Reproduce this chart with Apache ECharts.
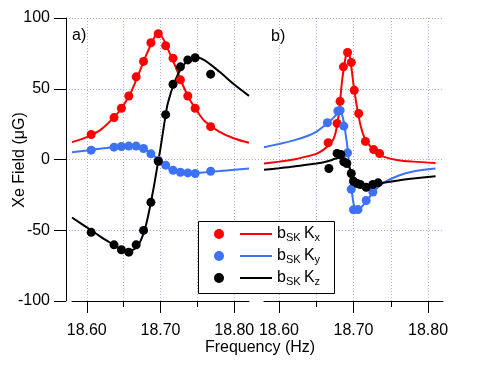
<!DOCTYPE html>
<html>
<head>
<meta charset="utf-8">
<script src="https://cdn.jsdelivr.net/npm/echarts@6/dist/echarts.min.js"></script>
<style>
  html, body { margin: 0; padding: 0; background: #fff; }
  #chart { width: 485px; height: 367px; }
</style>
</head>
<body>
<div id="chart"></div>
<script>
// tick labels
var yTicks = [-100, -50, 0, 50, 100];
var xMajor = [18.60, 18.70, 18.80];
var xMinor = [18.60, 18.65, 18.70, 18.75, 18.80];

// panel a) measured points
var aFreq = [18.606, 18.637, 18.647, 18.657, 18.667, 18.677, 18.687, 18.697, 18.707, 18.717, 18.727, 18.737, 18.747, 18.768];
var aKx = [17.7, 29.6, 36.2, 44.9, 58.4, 69.3, 82.5, 88.9, 80.4, 71.6, 56.3, 44.9, 36.2, 23.2];
var aKy = [6.6, 8.7, 9.2, 9.5, 9.5, 7.8, 4.0, -0.7, -4.0, -7.6, -9.0, -9.5, -9.9, -8.3];
var aKz = [-51.5, -60.3, -63.8, -65.5, -60.3, -50.1, -30.3, -1.2, 31.7, 53.2, 65.5, 70.4, 71.9, 60.3];

// panel a) fit curves
var fitFreqA = [18.58, 18.60, 18.62, 18.64, 18.65, 18.66, 18.67, 18.68, 18.69, 18.695, 18.70, 18.705, 18.71, 18.72, 18.73, 18.74, 18.75, 18.76, 18.78, 18.80, 18.82];
var fitAKx = [12.3, 15.8, 21.5, 31.5, 38.5, 47.5, 60, 73, 84.5, 88.5, 88, 84, 78, 66, 53, 42, 34, 27, 19.5, 14.8, 11.8];
var fitAKy = [5.2, 6.4, 7.7, 8.8, 9.3, 9.4, 8.8, 6.8, 3.2, 0.8, -1.8, -4.2, -6.0, -8.3, -9.3, -9.6, -9.5, -9.1, -8.2, -7.2, -6.4];
var fitAKz = [-41, -48, -55, -61.5, -65, -64.5, -60.5, -47, -22, -7, 8, 25, 40, 56, 66, 71, 72, 70, 62, 53, 45];

// panel b) measured points
var bFreqKx = [18.666, 18.678, 18.682, 18.6865, 18.692, 18.697, 18.701, 18.707, 18.716, 18.727, 18.735];
var bKx = [11.8, 25.5, 41.1, 65.5, 75.7, 68.6, 48.9, 32.5, 12.8, 7.0, 4.2];
var bFreqKy = [18.665, 18.679, 18.682, 18.687, 18.692, 18.697, 18.700, 18.706, 18.717, 18.726];
var bKy = [26, 34.3, 34.7, 23.6, 4.7, -21, -35.5, -35.3, -29, -23];
var bFreqKz = [18.667, 18.678, 18.683, 18.687, 18.691, 18.697, 18.700, 18.705, 18.709, 18.717, 18.726, 18.733];
var bKz = [-6.4, 4.3, 3.5, -1.6, -2.8, -9.9, -15.4, -17, -17.7, -19.6, -17.7, -16.5];

// panel b) fit curves
var fitFreqB = [18.58, 18.60, 18.62, 18.64, 18.65, 18.66, 18.67, 18.675, 18.68, 18.685, 18.69, 18.692, 18.695, 18.70, 18.705, 18.71, 18.715, 18.72, 18.73, 18.74, 18.76, 18.78, 18.81];
var fitBKx = [-2.8, -1.5, 0, 2.5, 4, 7, 12, 17, 31, 57, 74, 76, 73, 53, 36, 23, 15, 11, 5, 2, -0.5, -1.5, -2.4];
var fitBKy = [8.7, 11, 13.5, 17, 19.5, 23.5, 28, 30.5, 33.5, 31, 16, 8, -8, -31, -36, -34, -31, -27.5, -21, -16.5, -11.5, -8.5, -6.4];
var fitBKz = [-7.3, -6.2, -5, -3.5, -2.8, -2, -0.5, 0.5, 1, 1.5, -0.5, -2, -6, -13, -17, -18.8, -19.2, -19, -17.8, -16.5, -14.8, -13.5, -11.8];

var RED = '#ff0000', BLUE = '#3d72f5', BLACK = '#000000';
var FONT = 'Liberation Sans';
var GRIDC = '#a9a9ee';

function zip(xs, ys) {
  var out = [];
  for (var i = 0; i < xs.length; i++) out.push([xs[i], ys[i]]);
  return out;
}

function mainX(grid) {
  return {
    type: 'value', gridIndex: grid, position: 'bottom', min: 18.58, max: 18.82,
    axisLine: { show: true, onZero: false, lineStyle: { color: '#000', width: 1 } },
    axisTick: { show: true, length: 6, customValues: xMinor, lineStyle: { color: '#000' } },
    axisLabel: { customValues: xMajor, margin: 22, fontSize: 16, fontFamily: FONT, color: '#000',
      formatter: function (v) { return v.toFixed(2) } },
    splitLine: { show: true, lineStyle: { color: GRIDC, width: 1, type: [1, 2] } }
  };
}
function majorX(grid) {
  return {
    type: 'value', gridIndex: grid, position: 'bottom', min: 18.58, max: 18.82,
    axisLine: { show: false, onZero: false },
    axisTick: { show: true, length: 12, customValues: xMajor, lineStyle: { color: '#000' } },
    axisLabel: { show: false },
    splitLine: { show: false }
  };
}
function line(name, x, y, data, color) {
  return { name: name, type: 'line', xAxisIndex: x, yAxisIndex: y, data: data, showSymbol: false,
    smooth: 0.3, lineStyle: { color: color, width: 2 }, itemStyle: { color: color }, z: 2 };
}
function dots(name, x, y, data, color) {
  return { name: name, type: 'scatter', xAxisIndex: x, yAxisIndex: y, data: data, symbolSize: 9,
    itemStyle: { color: color, opacity: 1 }, z: 3 };
}
var subs = { 'Kx': 'x', 'Ky': 'y', 'Kz': 'z' };

var chart = echarts.init(document.getElementById('chart'));
var option = {
  animation: false,
  grid: [
    { left: 66, right: 42, top: 18, bottom: 66 },
    { left: 72, right: 236, top: 18, bottom: 66 },
    { left: 264, right: 42, top: 18, bottom: 66 }
  ],
  xAxis: [
    { type: 'value', gridIndex: 0, min: 0, max: 1, show: false },
    mainX(1), majorX(1), mainX(2), majorX(2)
  ],
  yAxis: [
    { type: 'value', gridIndex: 0, min: -100, max: 100, interval: 50,
      axisLine: { show: true, lineStyle: { color: '#000', width: 1 } },
      axisTick: { show: true, length: 12, lineStyle: { color: '#000' } },
      axisLabel: { margin: 16, fontSize: 16, fontFamily: FONT, color: '#000' },
      splitLine: { show: true, showMinLine: false, lineStyle: { color: GRIDC, width: 1, type: [1, 2] } } },
    { type: 'value', gridIndex: 1, min: -100, max: 100, interval: 50, show: false, splitLine: { show: false } },
    { type: 'value', gridIndex: 2, min: -100, max: 100, interval: 50, show: false, splitLine: { show: false } }
  ],
  legend: [
    { orient: 'vertical', left: 214, top: 229, padding: 0, itemWidth: 10, itemHeight: 10, itemGap: 12,
      icon: 'circle', data: ['Kx', 'Ky', 'Kz'], formatter: function () { return '' }, selectedMode: false, z: 6 },
    { orient: 'vertical', left: 240, top: 224, padding: 0, itemWidth: 32, itemHeight: 2, itemGap: 2,
      icon: 'rect', data: ['bSK Kx', 'bSK Ky', 'bSK Kz'], selectedMode: false, z: 6, itemStyle: { borderWidth: 0 },
      formatter: function (n) { return '{m|b}{s|SK} {m|K}{s|' + subs[n.slice(4)] + '}' },
      textStyle: { color: '#000', fontFamily: FONT, lineHeight: 20,
        rich: { m: { fontSize: 16, fontFamily: FONT, color: '#000', lineHeight: 20 },
                s: { fontSize: 11, fontFamily: FONT, color: '#000', lineHeight: 20, padding: [7, 0, 0, 0] } } } }
  ],
  graphic: [
    { type: 'rect', shape: { x: 198.5, y: 221.5, width: 136, height: 72 }, z: 5,
      style: { fill: '#fff', stroke: '#000', lineWidth: 1 } },
    { type: 'text', left: 72, top: 28, style: { text: 'a)', fontSize: 16, fontFamily: FONT, fill: '#000' } },
    { type: 'text', left: 271, top: 29, style: { text: 'b)', fontSize: 16, fontFamily: FONT, fill: '#000' } },
    { type: 'text', x: 20, y: 160, rotation: Math.PI / 2,
      style: { text: 'Xe Field (μG)', fontSize: 16, fontFamily: FONT, fill: '#000', align: 'center', verticalAlign: 'middle' } },
    { type: 'text', x: 260, y: 348,
      style: { text: 'Frequency (Hz)', fontSize: 16, fontFamily: FONT, fill: '#000', align: 'center', verticalAlign: 'middle' } }
  ],
  series: [
    line('bSK Kx', 1, 1, zip(fitFreqA, fitAKx), RED),
    line('bSK Ky', 1, 1, zip(fitFreqA, fitAKy), BLUE),
    line('bSK Kz', 1, 1, zip(fitFreqA, fitAKz), BLACK),
    dots('Kx', 1, 1, zip(aFreq, aKx), RED),
    dots('Ky', 1, 1, zip(aFreq, aKy), BLUE),
    dots('Kz', 1, 1, zip(aFreq, aKz), BLACK),
    line('bSK Kx', 3, 2, zip(fitFreqB, fitBKx), RED),
    line('bSK Ky', 3, 2, zip(fitFreqB, fitBKy), BLUE),
    line('bSK Kz', 3, 2, zip(fitFreqB, fitBKz), BLACK),
    dots('Kx', 3, 2, zip(bFreqKx, bKx), RED),
    dots('Ky', 3, 2, zip(bFreqKy, bKy), BLUE),
    dots('Kz', 3, 2, zip(bFreqKz, bKz), BLACK)
  ]
};
chart.setOption(option);
window.addEventListener('resize', function () {
  chart.resize();
});
</script>
</body>
</html>
